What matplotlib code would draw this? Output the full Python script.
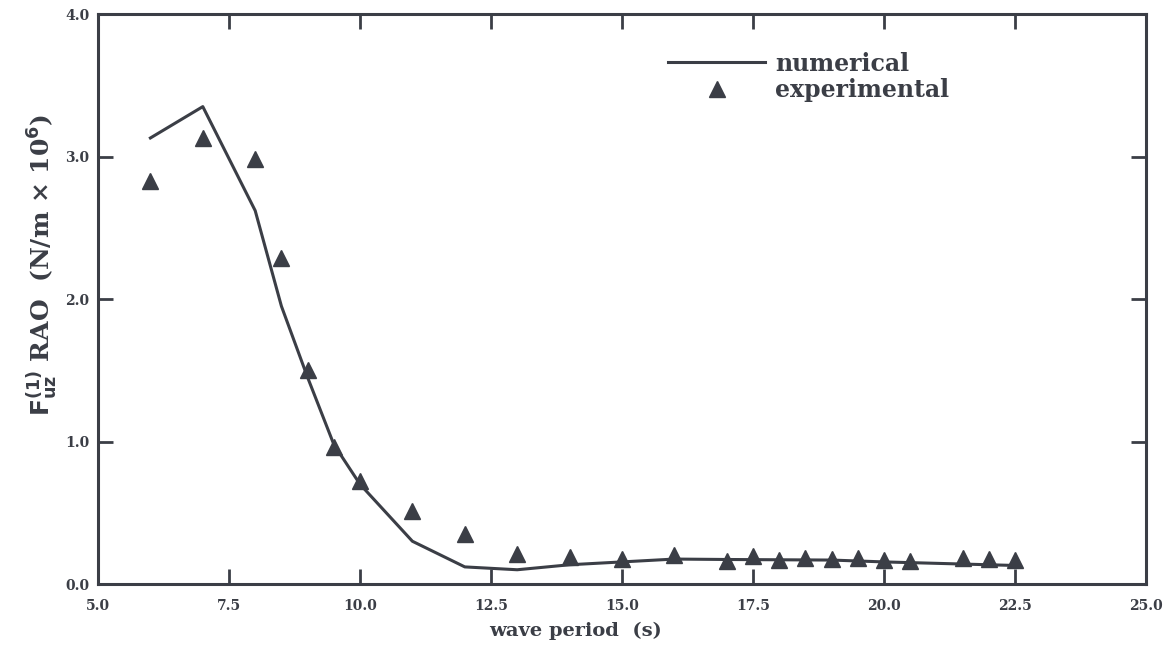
import matplotlib
matplotlib.use("Agg")
import matplotlib.pyplot as plt

# numerical (line)
num_period = [6.0, 7.0, 8.0, 8.5, 9.0, 9.5, 10.0, 11.0, 12.0, 13.0, 14.0, 15.0,
              16.0, 17.0, 18.0, 19.0, 20.0, 21.0, 22.0, 22.5]
num_rao = [3.13, 3.35, 2.62, 1.95, 1.45, 0.98, 0.70, 0.30, 0.12, 0.10, 0.135, 0.155,
           0.175, 0.172, 0.17, 0.168, 0.155, 0.145, 0.135, 0.13]

# experimental (triangles)
exp_period = [6.0, 7.0, 8.0, 8.5, 9.0, 9.5, 10.0, 11.0, 12.0, 13.0, 14.0, 15.0,
              16.0, 17.0, 17.5, 18.0, 18.5, 19.0, 19.5, 20.0, 20.5, 21.5, 22.0, 22.5]
exp_rao = [2.83, 3.13, 2.98, 2.29, 1.50, 0.96, 0.72, 0.51, 0.35, 0.21, 0.19, 0.177,
           0.204, 0.159, 0.20, 0.17, 0.18, 0.177, 0.18, 0.165, 0.16, 0.18, 0.177, 0.17]

x_ticks = [5.0, 7.5, 10.0, 12.5, 15.0, 17.5, 20.0, 22.5, 25.0]
y_ticks = [0.0, 1.0, 2.0, 3.0, 4.0]

color = "#3b3e46"
fam = "DejaVu Serif"

fig = plt.figure(figsize=(11.72, 6.52), dpi=100)
ax = fig.add_axes([98/1172, 1-584/652, 1048/1172, 570/652])

ax.plot(num_period, num_rao, color=color, lw=2.2, label="numerical")
ax.plot(exp_period, exp_rao, linestyle="none", marker="^", ms=11,
        color=color, label="experimental")

ax.set_xlim(5, 25)
ax.set_ylim(0, 4)
ax.set_xticks(x_ticks)
ax.set_yticks(y_ticks)
ax.set_xticklabels([f"{v:.1f}" for v in x_ticks], fontfamily=fam,
                   fontweight="bold", fontsize=10, color=color)
ax.set_yticklabels([f"{v:.1f}" for v in y_ticks], fontfamily=fam,
                   fontweight="bold", fontsize=10, color=color)
ax.tick_params(axis="both", direction="in", length=11, width=2, color=color,
               top=True, right=True)
ax.tick_params(axis="x", pad=11)
ax.tick_params(axis="y", pad=6)
for s in ax.spines.values():
    s.set_linewidth(2.2)
    s.set_color(color)

ax.set_xlabel("wave period  (s)", fontfamily=fam, fontweight="bold",
              fontsize=14, color=color)
ax.xaxis.set_label_coords(0.456, -0.067)
ax.set_ylabel(r"$\mathbf{F^{(1)}_{uz}}$ RAO  (N/m × 10$^{\mathbf{6}}$)",
              fontfamily=fam, fontweight="bold", fontsize=18, color=color)
ax.yaxis.set_label_coords(-0.036, 0.56)

leg = ax.legend(loc="upper left", bbox_to_anchor=(0.544, 0.934), frameon=False,
                borderaxespad=0, borderpad=0,
                handlelength=4.1, handletextpad=0.42, labelspacing=0.1,
                prop={"family": fam, "weight": "bold", "size": 17})
for t in leg.get_texts():
    t.set_color(color)

fig.savefig("out.png", dpi=100)
